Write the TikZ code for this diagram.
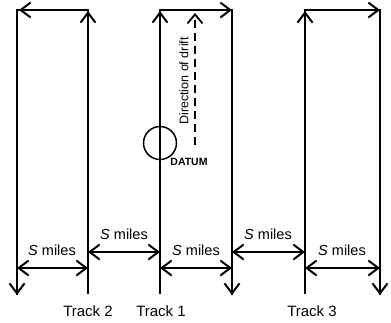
\documentclass[tikz,border=0pt]{standalone}
\usepackage{fontspec}
\setmainfont{Liberation Sans}
\usetikzlibrary{arrows.meta}
\begin{document}
\begin{tikzpicture}[x=1pt,y=-1pt,
  trk/.style={line width=2pt,line join=miter},
  tip/.style={line width=2pt,-{Straight Barb[length=10pt,width=15pt,line width=2pt]}},
  meas/.style={line width=2pt,{Straight Barb[length=10pt,width=15pt,line width=2pt]}-{Straight Barb[length=10pt,width=15pt,line width=2pt]}},
  lbl/.style={font=\fontsize{14.5}{14.5}\selectfont,inner sep=0pt},
  tlbl/.style={font=\fontsize{15}{15}\selectfont,inner sep=0pt}]
\useasboundingbox (0,0) rectangle (391,322);
% corners
\coordinate (Atop) at (17,10);  \coordinate (Abot) at (17,295);
\coordinate (Btop) at (88,10);  \coordinate (Bbot) at (88,294);
\coordinate (Ctop) at (160,10); \coordinate (Cbot) at (160,294);
\coordinate (Dtop) at (232,10); \coordinate (Dbot) at (232,295);
\coordinate (Etop) at (305,10); \coordinate (Ebot) at (305,294);
\coordinate (Ftop) at (380,10); \coordinate (Fbot) at (380,295);
% search legs
\draw[trk] (Bbot) -- (Btop) -- (Atop) -- (Abot);
\draw[trk] (Cbot) -- (Ctop) -- (Dtop) -- (Dbot);
\draw[trk] (Ebot) -- (Etop) -- (Ftop) -- (Fbot);
% direction tips
\draw[tip] (88,40) -- (88,11);
\draw[tip] (40,10) -- (19,10);
\draw[tip] (17,270) -- (Abot);
\draw[tip] (160,40) -- (160,11);
\draw[tip] (210,10) -- (Dtop);
\draw[tip] (232,270) -- (Dbot);
\draw[tip] (305,40) -- (305,11);
\draw[tip] (358,10) -- (Ftop);
\draw[tip] (380,270) -- (Fbot);
% spacing
\coordinate (m1a) at (17,268);  \coordinate (m1b) at (88,268);
\coordinate (m2a) at (88,252);  \coordinate (m2b) at (160,252);
\coordinate (m3a) at (160,268); \coordinate (m3b) at (232,268);
\coordinate (m4a) at (232,252); \coordinate (m4b) at (305,252);
\coordinate (m5a) at (305,268); \coordinate (m5b) at (380,268);
\draw[meas] (m1a) -- (m1b);
\draw[meas] (m2a) -- (m2b);
\draw[meas] (m3a) -- (m3b);
\draw[meas] (m4a) -- (m4b);
\draw[meas] (m5a) -- (m5b);
\node[lbl] (s1) at (52,250) {\textit{S} miles};
\node[lbl] (s2) at (124,234) {\textit{S} miles};
\node[lbl] (s3) at (196,250) {\textit{S} miles};
\node[lbl] (s4) at (268,234) {\textit{S} miles};
\node[lbl] (s5) at (342,250) {\textit{S} miles};
% track labels
\node[tlbl] (t2) at (88,311) {Track 2};
\node[tlbl] (t1) at (161,311) {Track 1};
\node[tlbl] (t3) at (312,311) {Track 3};
% datum and drift
\node[draw,circle,line width=1.5pt,minimum size=33pt,inner sep=0pt] (datum) at (160,143) {};
\node[inner sep=0pt,font=\bfseries\fontsize{10.5}{10.5}\selectfont] (dlbl) at (189,162) {DATUM};
\coordinate (drA) at (195,145);
\coordinate (drB) at (195,13);
\draw[line width=1.6pt,dash pattern=on 8pt off 5pt,-{Straight Barb[length=9pt,width=15pt,line width=1.8pt]}] (drA) -- (drB);
\node[rotate=90,inner sep=0pt,font=\fontsize{12.5}{12.5}\selectfont] (drift) at (184,81) {Direction of drift};
\end{tikzpicture}
\end{document}
